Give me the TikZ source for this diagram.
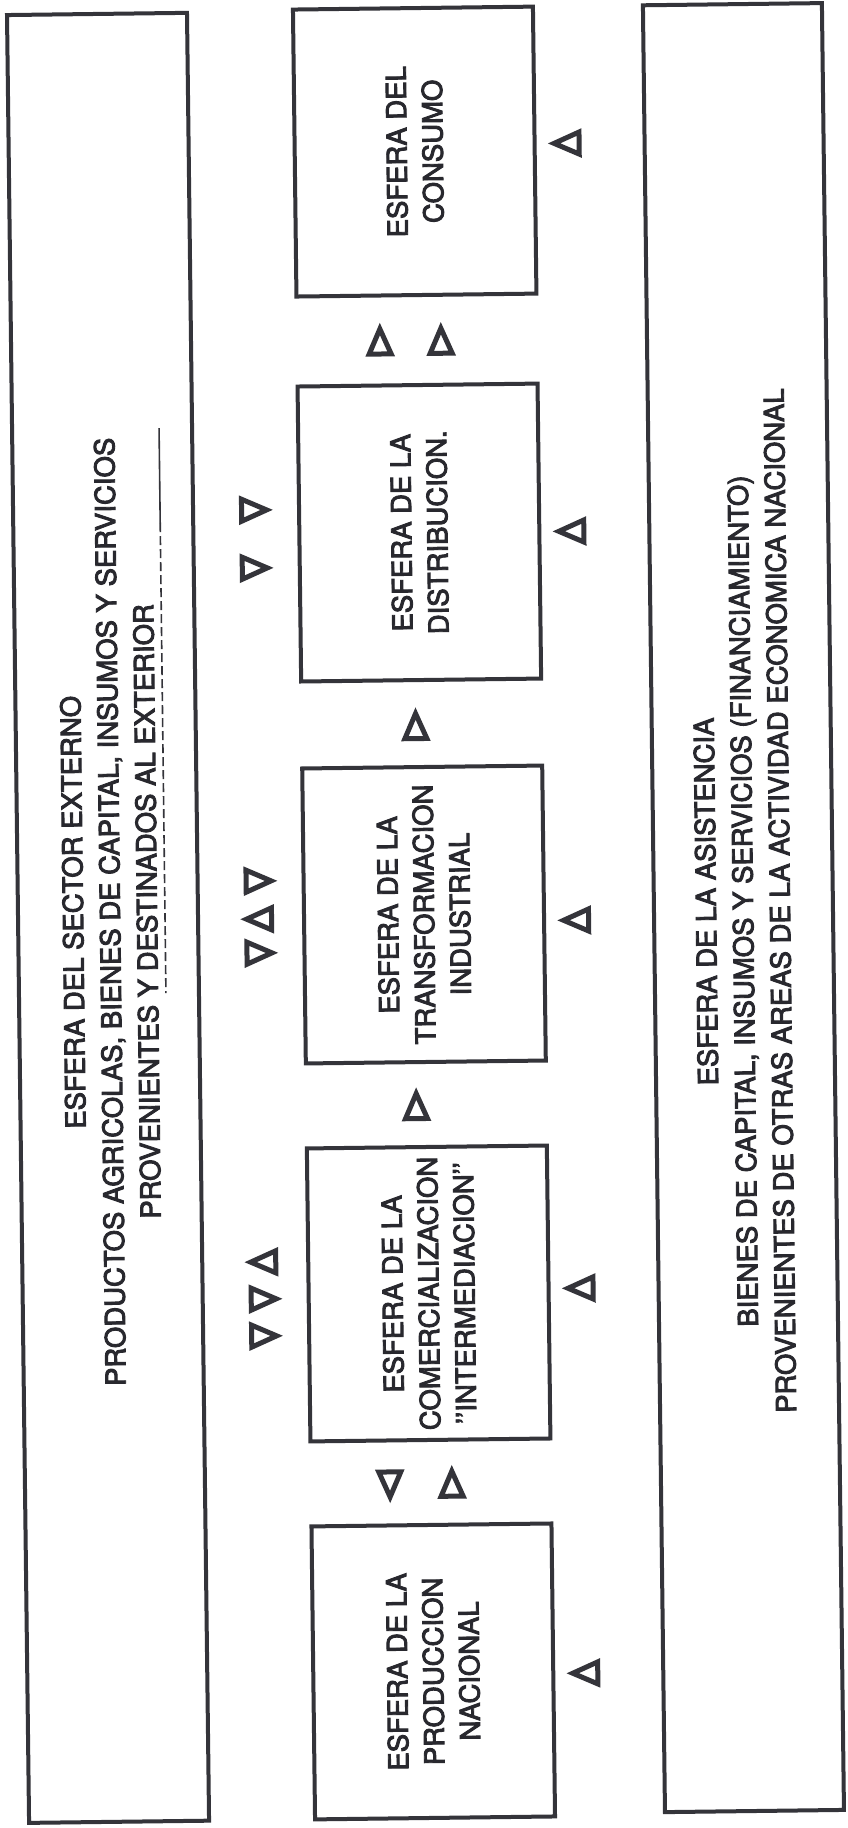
\documentclass[tikz,border=0pt]{standalone}
\usepackage{fontspec}
\setmainfont{TeX Gyre Heros}
% slightly heavier lettering: fill and stroke the glyph outlines
\newcommand\inkon{\special{pdf:literal direct 2 Tr 0.9 w 0.16 0.16 0.18 RG}}
\newcommand\inkoff{\special{pdf:literal direct 0 Tr}}
\begin{document}
\begin{tikzpicture}[x=1pt,y=-1pt,
  ink/.style={draw={rgb,255:red,52;green,52;blue,58}},
  txt/.style={text={rgb,255:red,40;green,40;blue,46},
    execute at begin node=\inkon, execute at end node=\inkoff},
  band/.style={ink, line width=4pt, rotate=90, inner sep=0pt},
  sphere/.style={ink, line width=4pt, rotate=90, align=center, txt,
    font=\fontsize{27.5}{36}\selectfont, minimum height=240, inner sep=0pt},
  bandtext/.style={rotate=90, align=center, txt, font=\fontsize{27.5}{37}\selectfont},
  tri/.style={ink, line width=5pt, line join=miter, fill=white},
  arr/.pic={\draw[tri] (0,-12.5) -- (11,12.5) -- (-11,12.5) -- cycle;},
  underline/.style={ink, line width=1.6pt}
]
\useasboundingbox[fill=white] (0,0) rectangle (848,1828);
\begin{scope}[rotate around={0.7:(424,914)}, transform shape]

% outer bands: external sector and assistance
\node[band, minimum width=1808, minimum height=180] (externo) at (108,914) {};
\node[band, minimum width=1807, minimum height=179] (asist) at (743.5,911.5) {};
\node[bandtext] (externoTxt) at (110,908)
  {ESFERA DEL SECTOR EXTERNO\\
   PRODUCTOS AGRICOLAS, BIENES DE CAPITAL, INSUMOS Y SERVICIOS\\
   PROVENIENTES Y DESTINADOS AL EXTERIOR};
\node[bandtext] (asistTxt) at (743,905)
  {ESFERA DE LA ASISTENCIA\\
   BIENES DE CAPITAL, INSUMOS Y SERVICIOS (FINANCIAMIENTO)\\
   PROVENIENTES DE OTRAS AREAS DE LA ACTIVIDAD ECONOMICA NACIONAL};

% underline beneath the last line of the external band
\coordinate (ulA) at (165,425);
\coordinate (ulB) at (165,520);
\coordinate (ulC) at (165,990);
\draw[underline] (ulA) -- (ulB);
\draw[underline, dash pattern=on 9pt off 4pt] (ulB) -- (ulC);

% the chain of spheres
\node[sphere, minimum width=287] (consumo) at (424,151.5) {ESFERA DEL\\CONSUMO};
\node[sphere, minimum width=295] (distrib) at (424,532.5) {ESFERA DE LA\\DISTRIBUCION.};
\node[sphere, minimum width=295] (transf) at (424,914.5) {ESFERA DE LA\\TRANSFORMACION\\INDUSTRIAL};
\node[sphere, minimum width=293] (comerc) at (424,1293.5) {ESFERA DE LA\\COMERCIALIZACION\\’’INTERMEDIACION’’};
\node[sphere, minimum width=293] (produc) at (424,1671.5) {ESFERA DE LA\\PRODUCCION\\NACIONAL};

% flows between neighbouring spheres
\pic at (387,341) {arr};
\pic at (448,341) {arr};
\pic at (418,726) {arr};
\pic at (414,1106) {arr};
\pic[rotate=180] at (383,1484) {arr};
\pic at (445,1484) {arr};

% exchanges with the external sector
\pic[rotate=-90] at (259,508) {arr};
\pic[rotate=-90] at (259,566) {arr};
\pic[rotate=-90] at (259,879) {arr};
\pic[rotate=90]  at (259,917) {arr};
\pic[rotate=-90] at (259,951) {arr};
\pic[rotate=90]  at (259,1260) {arr};
\pic[rotate=-90] at (259,1297) {arr};
\pic[rotate=-90] at (259,1334) {arr};

% support from the assistance sphere
\pic[rotate=90] at (576,145) {arr};
\pic[rotate=90] at (576,533) {arr};
\pic[rotate=90] at (576,922) {arr};
\pic[rotate=90] at (576,1290) {arr};
\pic[rotate=90] at (576,1675) {arr};

\end{scope}
\end{tikzpicture}
\end{document}
